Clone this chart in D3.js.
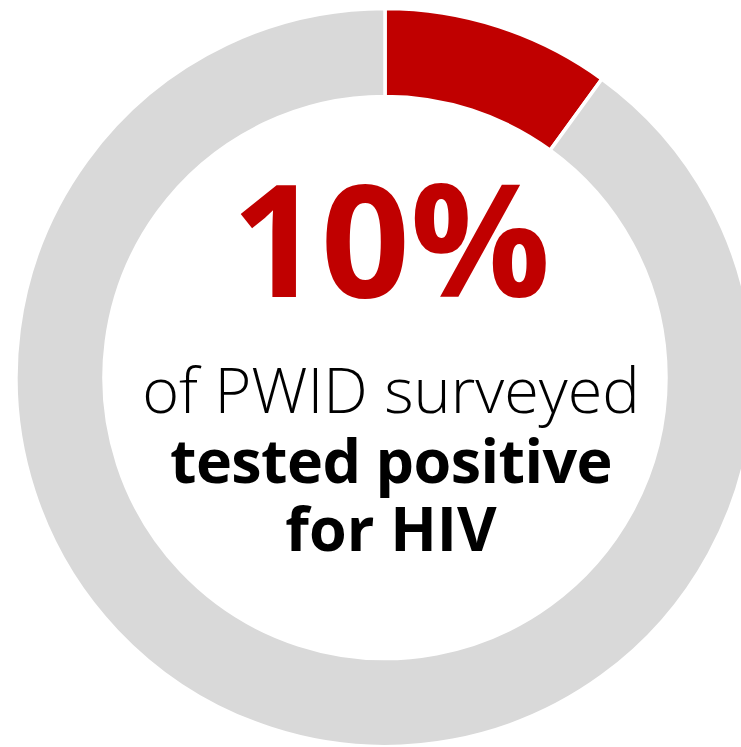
<!DOCTYPE html>
<html>
<head>
<meta charset="utf-8">
<script src="https://cdn.jsdelivr.net/npm/d3@7"></script>
<style>
  html, body { margin: 0; padding: 0; background: #fff; overflow: hidden; }
  svg { display: block; }
</style>
</head>
<body>
<svg id="chart" width="741" height="747"></svg>
<script>
// Share of surveyed PWID by HIV test result
const categories = ["Tested positive", "Did not test positive"];
const values = [10, 90];
const colors = ["#C00000", "#D9D9D9"];

const headline = "10%";
const lineOne = "of PWID surveyed";
const lineTwo = "tested positive";
const lineThree = "for HIV";

const svg = d3.select("#chart");
const cx = 385, cy = 377.5;
const outerR = 369, innerR = 281;

const pie = d3.pie().sort(null).value(d => d);
const arc = d3.arc().innerRadius(innerR).outerRadius(outerR);

const g = svg.append("g").attr("transform", `translate(${cx},${cy})`);

g.selectAll("path.slice")
  .data(pie(values))
  .join("path")
  .attr("class", "slice")
  .attr("d", arc)
  .attr("fill", (d, i) => colors[i])
  .attr("stroke", "#fff")
  .attr("stroke-width", 3.5)
  .attr("stroke-linejoin", "miter");

const font = "'Open Sans', 'Noto Sans', sans-serif";
const tx = 391;

svg.append("text")
  .attr("x", tx).attr("y", 297)
  .attr("text-anchor", "middle")
  .attr("font-family", font)
  .attr("font-weight", 700)
  .attr("font-size", 156)
  .attr("fill", colors[0])
  .text(headline);

svg.append("text")
  .attr("x", tx).attr("y", 413)
  .attr("text-anchor", "middle")
  .attr("font-family", font)
  .attr("font-weight", 300)
  .attr("font-size", 63)
  .attr("fill", "#000")
  .text(lineOne);

svg.append("text")
  .attr("x", tx).attr("y", 483)
  .attr("text-anchor", "middle")
  .attr("font-family", font)
  .attr("font-weight", 700)
  .attr("font-size", 61)
  .attr("letter-spacing", -0.6)
  .attr("fill", "#000")
  .text(lineTwo);

svg.append("text")
  .attr("x", tx).attr("y", 551)
  .attr("text-anchor", "middle")
  .attr("font-family", font)
  .attr("font-weight", 700)
  .attr("font-size", 61)
  .attr("fill", "#000")
  .text(lineThree);
</script>
</body>
</html>
